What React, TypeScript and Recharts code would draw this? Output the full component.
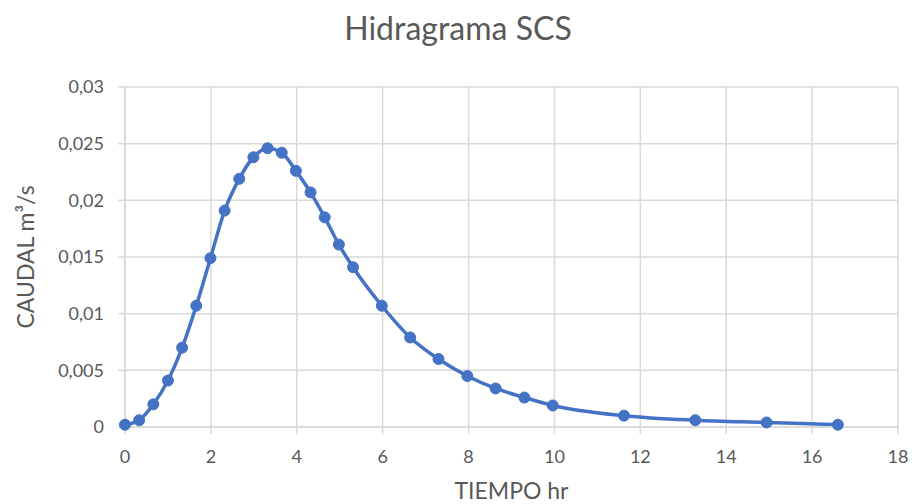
import React from "react"
import { LineChart, Line, XAxis, YAxis, CartesianGrid, Label } from "recharts"

const tiempo = [0, 0.33, 0.66, 1.0, 1.33, 1.66, 1.99, 2.32, 2.66, 2.99, 3.32, 3.65, 3.98, 4.32, 4.65, 4.98, 5.31, 5.98, 6.64, 7.3, 7.97, 8.63, 9.3, 9.96, 11.62, 13.28, 14.94, 16.6]
const caudal = [0.0002, 0.0006, 0.002, 0.0041, 0.007, 0.0107, 0.0149, 0.0191, 0.0219, 0.0238, 0.0246, 0.0242, 0.0226, 0.0207, 0.0185, 0.0161, 0.0141, 0.0107, 0.0079, 0.006, 0.0045, 0.0034, 0.0026, 0.0019, 0.001, 0.0006, 0.0004, 0.0002]
const xTicks = [0, 2, 4, 6, 8, 10, 12, 14, 16, 18]
const yTicks = [0, 0.005, 0.01, 0.015, 0.02, 0.025, 0.03]

const data = tiempo.map((t, i) => ({ t, q: caudal[i] }))

const FONT = "Lato, 'Open Sans', sans-serif"
const TXT = "#595959"
const GRID = "#d9d9d9"
const BLUE = "#4472C4"

const coma = (v: number) => String(v).replace(".", ",")

export default function App() {
  return (
    <div style={{ position: "absolute", left: 0, top: 0, width: 912, height: 504, background: "#fff", fontFamily: FONT, overflow: "hidden" }}>
      <div style={{ position: "absolute", top: 12, left: 2, width: 912, textAlign: "center", fontSize: 32, lineHeight: 1, color: TXT }}>Hidragrama SCS</div>
      <LineChart width={912} height={504} data={data} margin={{ top: 87, right: 14, bottom: 47, left: 65 }}>
        <CartesianGrid stroke={GRID} strokeWidth={1.5} />
        <XAxis
          dataKey="t"
          type="number"
          domain={[0, 18]}
          ticks={xTicks}
          height={30}
          tickFormatter={coma}
          stroke={GRID}
          strokeWidth={1.5}
          tickSize={7}
          tickMargin={16}
          tick={{ fill: TXT, fontSize: 18, fontFamily: FONT }}
        >
          <Label value="TIEMPO hr" position="bottom" offset={26} style={{ fill: TXT, fontSize: 23, fontFamily: FONT }} />
        </XAxis>
        <YAxis
          type="number"
          domain={[0, 0.03]}
          ticks={yTicks}
          width={60}
          tickFormatter={coma}
          stroke={GRID}
          strokeWidth={1.5}
          tickSize={7}
          tickMargin={14}
          tick={{ fill: TXT, fontSize: 18, fontFamily: FONT }}
        >
          <Label value="CAUDAL m³/s" angle={-90} position="insideLeft" offset={-39} style={{ fill: TXT, fontSize: 23, fontFamily: FONT, textAnchor: "middle" }} />
        </YAxis>
        <Line
          type="monotone"
          dataKey="q"
          stroke={BLUE}
          strokeWidth={3.5}
          dot={{ r: 5.5, fill: BLUE, stroke: BLUE, strokeWidth: 1 }}
          isAnimationActive={false}
        />
      </LineChart>
    </div>
  )
}
